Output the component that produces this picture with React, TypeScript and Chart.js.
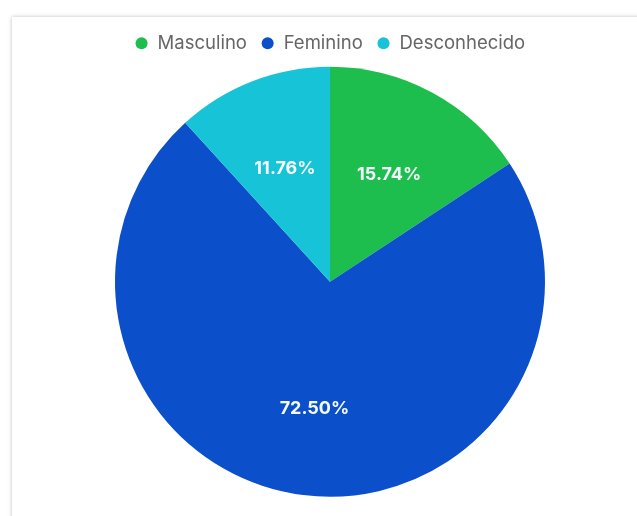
import React, { useEffect, useRef } from "react";
import { Chart, registerables } from "chart.js";

Chart.register(...registerables);

const categories = ["Masculino", "Feminino", "Desconhecido"];
const percentValues = [15.74, 72.5, 11.76];
const sliceColors = ["#1dbe4d", "#0b50ca", "#17c3d6"];

const labelPlugin = {
  id: "sliceLabels",
  afterDatasetsDraw(chart: any) {
    const ctx = chart.ctx;
    const meta = chart.getDatasetMeta(0);
    ctx.save();
    ctx.font = "bold 18px Inter";
    ctx.fillStyle = "#f4fbff";
    ctx.textAlign = "center";
    ctx.textBaseline = "middle";
    meta.data.forEach((arc: any, i: number) => {
      const p = arc.getProps(["x", "y", "startAngle", "endAngle", "outerRadius"], true);
      const mid = (p.startAngle + p.endAngle) / 2;
      const r = p.outerRadius * 0.58;
      const x = p.x + Math.cos(mid) * r;
      const y = p.y + Math.sin(mid) * r + 3;
      ctx.fillText(percentValues[i].toFixed(2) + "%", x, y);
    });
    ctx.restore();
  },
};

export default function App() {
  const ref = useRef<HTMLCanvasElement>(null);
  useEffect(() => {
    const chart = new Chart(ref.current as HTMLCanvasElement, {
      type: "pie",
      data: {
        labels: categories,
        datasets: [
          {
            data: percentValues,
            backgroundColor: sliceColors,
            borderWidth: 0,
            radius: 215,
          } as any,
        ],
      },
      options: {
        animation: false,
        responsive: false,
        layout: { padding: { top: 20, bottom: 15, left: 23, right: 0 } },
        plugins: {
          tooltip: { enabled: false },
          legend: {
            position: "top",
            labels: {
              usePointStyle: true,
              pointStyle: "circle",
              boxWidth: 13.5,
              boxHeight: 8.5,
              padding: 14,
              color: "#666666",
              font: { family: "Inter", size: 18.5 },
            },
          },
        },
      },
      plugins: [labelPlugin],
    });
    return () => chart.destroy();
  }, []);
  return (
    <div
      style={{
        position: "fixed",
        left: 0,
        top: 0,
        width: 637,
        height: 516,
        overflow: "hidden",
        background: "#ffffff",
      }}
    >
      <div
        style={{
          position: "absolute",
          left: 12,
          top: 17,
          width: 700,
          height: 600,
          background: "#ffffff",
          boxShadow: "0 0 4px rgba(0,0,0,0.25)",
        }}
      />
      <canvas
        ref={ref}
        width={637}
        height={516}
        style={{ position: "absolute", left: 0, top: 0, width: 637, height: 516 }}
      />
    </div>
  );
}
